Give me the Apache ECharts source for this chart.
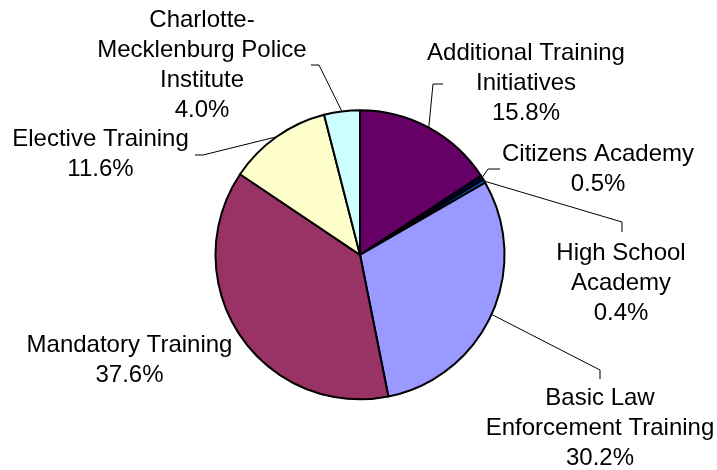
<!DOCTYPE html>
<html>
<head>
<meta charset="utf-8">
<script src="https://cdn.jsdelivr.net/npm/echarts@6/dist/echarts.min.js"></script>
<style>
html,body{margin:0;padding:0;background:#fff;}
#chart{width:717px;height:470px;}
</style>
</head>
<body>
<div id="chart"></div>
<script>
// Data
var categories = [
  'Additional Training\nInitiatives',
  'Citizens Academy',
  'High School\nAcademy',
  'Basic Law\nEnforcement Training',
  'Mandatory Training',
  'Elective Training',
  'Charlotte-\nMecklenburg Police\nInstitute'
];
var values = [15.8, 0.5, 0.4, 30.2, 37.6, 11.6, 4.0];
var colors = ['#660066', '#000040', '#0066CC', '#9999FF', '#993366', '#FFFFCC', '#CCFFFF'];

// Label layout (text centre and label-line elbow points)
var labelPos = [
  [526, 83], [598, 169], [621, 283], [600, 428.5], [129.5, 360], [100.5, 154], [202, 65.5]
];
var lineElbows = [
  [[433, 84], [443, 84]],
  [[488, 169], [500, 169]],
  [[622, 222], [622, 232]],
  [[600, 370], [600, 379]],
  null,
  [[203, 155], [195, 155]],
  [[319, 65], [311, 65]]
];

var chart = echarts.init(document.getElementById('chart'), null, {renderer: 'canvas'});
var data = categories.map(function (c, i) {
  return {
    name: c,
    value: values[i],
    itemStyle: {color: colors[i]},
    labelLine: {show: lineElbows[i] !== null}
  };
});

chart.setOption({
  animation: false,
  backgroundColor: '#ffffff',
  series: [{
    type: 'pie',
    center: [360, 254.8],
    radius: 144.5,
    startAngle: 90,
    clockwise: true,
    avoidLabelOverlap: false,
    data: data,
    itemStyle: {borderColor: '#000000', borderWidth: 2},
    emphasis: {disabled: true},
    label: {
      show: true,
      formatter: function (p) { return p.name + '\n' + values[p.dataIndex].toFixed(1) + '%'; },
      fontFamily: 'Liberation Sans, Arial, sans-serif',
      fontSize: 24,
      lineHeight: 30,
      color: '#000000',
      align: 'center'
    },
    labelLine: {
      show: true,
      length: 10,
      length2: 10,
      lineStyle: {color: '#000000', width: 1}
    },
    labelLayout: function (params) {
      var i = params.dataIndex;
      var res = {
        x: labelPos[i][0],
        y: labelPos[i][1],
        align: 'center',
        verticalAlign: 'middle'
      };
      if (lineElbows[i] && params.labelLinePoints) {
        var start = params.labelLinePoints[0];
        res.labelLinePoints = [start].concat(lineElbows[i]);
      }
      return res;
    }
  }]
});
</script>
</body>
</html>
